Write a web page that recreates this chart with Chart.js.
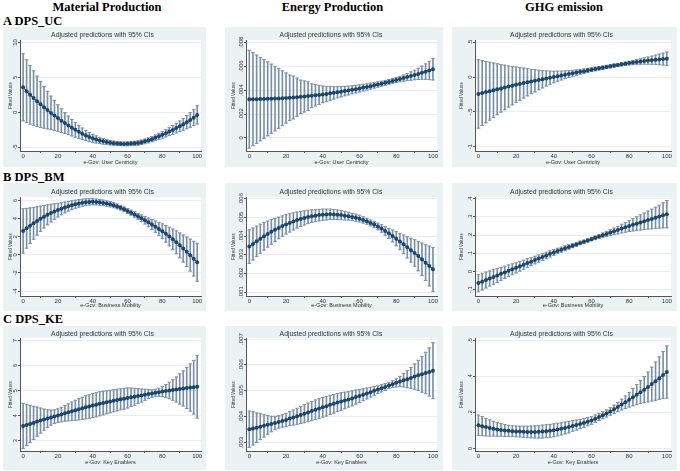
<!DOCTYPE html>
<html>
<head>
<meta charset="utf-8">
<script src="https://cdn.jsdelivr.net/npm/chart.js@4.4.1/dist/chart.umd.min.js"></script>
<style>
body{margin:0;background:#fff;}
#page{position:relative;width:680px;height:471px;overflow:hidden;background:#fff;}
.hd{position:absolute;font-family:"Liberation Serif","Times New Roman",serif;font-weight:bold;font-size:12.5px;line-height:12.5px;white-space:nowrap;color:#000;}
.panel{position:absolute;background:#eaf2f3;}
.panel canvas{display:block;}
</style>
</head>
<body>
<div id="page"></div>
<script>
// margins at e-Gov score 0,2,...,100
const atX = [0,2,4,6,8,10,12,14,16,18,20,22,24,26,28,30,32,34,36,38,40,42,44,46,48,50,
  52,54,56,58,60,62,64,66,68,70,72,74,76,78,80,82,84,86,88,90,92,94,96,98,100];
const xTickVals = [0,20,40,60,80,100];

const colTitles = ['Material Production','Energy Production','GHG emission'];
const rowLabels = ['A DPS_UC','B DPS_BM','C DPS_KE'];
const xTitles = ['e-Gov: User Centricity','e-Gov: Business Mobility','e-Gov: Key Enablers'];

// fitted values and 95% CI half widths
const matUC = [3.57,3.02,2.50,2.03,1.57,1.13,.71,.31,-.09,-.47,-.83,-1.20,-1.55,-1.88,-2.21,-2.52,-2.81,-3.08,-3.32,-3.55,-3.73,
  -3.89,-4.04,-4.17,-4.27,-4.36,-4.43,-4.48,-4.51,-4.53,-4.52,-4.49,-4.45,-4.39,-4.30,-4.17,-4.02,-3.85,-3.66,-3.45,-3.23,
  -3.01,-2.77,-2.53,-2.27,-2.01,-1.73,-1.43,-1.11,-.77,-.38];
const matUCci = [4.8,4.5,4.2,3.9,3.6,3.3,3.0,2.7,2.4,2.15,1.9,1.7,1.5,1.33,1.18,1.05,.93,.82,.73,.65,.58,
  .51,.45,.4,.36,.32,.3,.28,.27,.27,.28,.29,.3,.31,.32,.34,.36,.38,.41,.44,.48,.52,.57,.63,.7,.77,.85,.94,1.04,1.15,1.3];

const engUC = [.00324,.00324,.00324,.00325,.00326,.00327,.00328,.00329,.0033,.00332,.00334,.00336,.00338,.00341,.00344,.00347,
  .0035,.00353,.00357,.0036,.00364,.00368,.00373,.00377,.00382,.00387,.00392,.00397,.00403,.00408,.00414,.00421,.00427,.00433,
  .0044,.00447,.00454,.00461,.00469,.00477,.00485,.00493,.00501,.0051,.00518,.00527,.00536,.00546,.00555,.00565,.00575];
const engUCci = [.0041,.0039,.0037,.0035,.0033,.0031,.0029,.0027,.0025,.0023,.0021,.0019,.0018,.0016,.0014,.0013,.0012,.001,
  .0009,.0008,.0007,.00064,.00058,.00052,.00047,.00043,.0004,.00037,.00034,.00032,.0003,.00028,.00026,.00025,.00023,.00022,
  .00021,.0002,.0002,.0002,.00021,.00023,.00026,.0003,.00035,.0004,.00047,.00055,.00065,.00077,.0009];

const ghgUC = [-.243,-.23,-.216,-.203,-.189,-.176,-.163,-.15,-.137,-.124,-.111,-.099,-.087,-.076,-.065,-.054,-.043,-.032,-.021,
  -.011,0,.011,.021,.032,.042,.053,.063,.074,.084,.095,.105,.115,.125,.134,.144,.153,.163,.172,.181,.19,.199,.207,.215,.222,
  .229,.235,.241,.247,.252,.257,.262];
const ghgUCci = [.49,.465,.44,.415,.39,.365,.34,.32,.295,.275,.255,.235,.215,.195,.175,.16,.14,.125,.11,.095,.083,.073,.064,
  .056,.049,.043,.039,.035,.032,.03,.028,.027,.026,.025,.024,.024,.023,.023,.024,.025,.027,.03,.034,.039,.045,.052,.059,.067,
  .076,.085,.095];

const matBM = [2.65,2.94,3.22,3.49,3.75,4.0,4.22,4.43,4.62,4.79,4.95,5.1,5.24,5.37,5.49,5.6,5.69,5.77,5.83,5.86,5.87,5.85,
  5.81,5.75,5.68,5.6,5.49,5.36,5.21,5.04,4.85,4.67,4.47,4.26,4.05,3.83,3.6,3.36,3.12,2.87,2.61,2.33,2.03,1.72,1.39,1.05,
  .7,.34,-.03,-.42,-.82];
const matBMci = [2.45,2.2,1.97,1.76,1.57,1.4,1.25,1.11,.98,.86,.76,.67,.6,.54,.49,.45,.42,.39,.37,.35,.34,.33,.32,.31,.3,
  .29,.28,.27,.26,.26,.27,.28,.3,.33,.37,.42,.48,.55,.63,.72,.82,.92,1.03,1.14,1.26,1.38,1.5,1.63,1.77,1.92,2.1];

const engBM = [.00344,.00358,.00372,.00386,.00399,.00411,.00423,.00434,.00444,.00454,.00463,.00471,.00479,.00486,.00492,
  .00498,.00503,.00507,.0051,.00513,.00515,.00516,.00517,.00516,.00515,.00513,.0051,.00507,.00503,.00499,.00494,.00487,
  .0048,.00471,.00462,.00452,.00441,.00428,.00415,.00401,.00386,.00371,.00356,.0034,.00325,.0031,.00293,.00276,.00258,
  .0024,.00222];
const engBMci = [.0009,.00086,.00082,.00078,.00074,.0007,.00066,.00062,.00058,.00055,.00052,.00049,.00046,.00043,.0004,
  .00038,.00036,.00034,.00032,.00031,.0003,.00029,.00028,.00027,.00026,.00025,.00023,.00021,.0002,.00019,.00018,.00017,
  .00016,.00016,.00017,.00018,.0002,.00023,.00027,.00032,.00038,.00044,.0005,.00057,.00064,.00071,.00079,.00087,.00096,
  .00107,.00118];

const ghgBM = [-.064,-.056,-.047,-.039,-.03,-.022,-.013,-.005,.004,.012,.02,.029,.037,.046,.054,.063,.071,.08,.088,.097,.105,
  .113,.12,.128,.135,.142,.149,.157,.164,.171,.178,.185,.193,.2,.207,.214,.221,.228,.236,.243,.25,.257,.263,.27,.276,.283,
  .289,.296,.302,.309,.315];
const ghgBMci = [.048,.046,.044,.042,.04,.038,.036,.034,.032,.03,.028,.027,.025,.024,.022,.021,.02,.019,.018,.017,.016,.015,
  .014,.013,.012,.011,.01,.01,.009,.009,.009,.01,.011,.012,.014,.016,.018,.021,.024,.027,.03,.034,.038,.042,.046,.05,.054,
  .058,.063,.069,.075];

const matKE = [3.6,3.64,3.68,3.72,3.77,3.81,3.85,3.89,3.93,3.97,4.01,4.05,4.1,4.14,4.18,4.22,4.26,4.3,4.34,4.37,4.41,4.44,
  4.48,4.51,4.54,4.57,4.6,4.63,4.66,4.68,4.71,4.74,4.76,4.79,4.81,4.84,4.87,4.89,4.92,4.94,4.97,4.99,5.01,5.03,5.05,5.07,
  5.09,5.11,5.13,5.14,5.16];
const matKEci = [.9,.82,.74,.66,.58,.5,.42,.35,.3,.27,.27,.29,.31,.34,.37,.4,.42,.44,.46,.47,.48,.48,.48,.47,.46,.45,.44,
  .43,.42,.41,.4,.37,.34,.3,.26,.22,.18,.15,.14,.16,.2,.26,.33,.41,.5,.6,.7,.82,.94,1.07,1.25];

const engKE = [.00352,.00355,.00358,.00362,.00365,.00369,.00372,.00376,.0038,.00384,.00388,.00393,.00397,.00402,.00407,
  .00412,.00417,.00422,.00427,.00432,.00437,.00441,.00446,.0045,.00455,.00459,.00463,.00467,.00471,.00476,.0048,.00485,
  .0049,.00495,.005,.00505,.0051,.00515,.00521,.00526,.00531,.00536,.00541,.00545,.0055,.00555,.0056,.00564,.00569,
  .00573,.00578];
const engKEci = [.0007,.00064,.00057,.0005,.00043,.00036,.0003,.00026,.00024,.00024,.00025,.00027,.00029,.00031,.00033,
  .00035,.00036,.00037,.00038,.00038,.00038,.00038,.00037,.00036,.00035,.00034,.00032,.0003,.00029,.00027,.00025,.00023,
  .00021,.00019,.00017,.00015,.00014,.00013,.00012,.00013,.00016,.0002,.00026,.00033,.0004,.00049,.00058,.00069,.0008,
  .00093,.00108];

const ghgKE = [.13,.125,.12,.115,.111,.107,.104,.101,.099,.097,.096,.095,.094,.093,.093,.093,.094,.095,.097,.099,.102,.106,
  .11,.115,.12,.126,.131,.137,.143,.15,.157,.166,.176,.186,.196,.207,.219,.232,.245,.258,.272,.286,.3,.314,.328,.343,.359,
  .375,.392,.409,.426];
const ghgKEci = [.057,.053,.049,.045,.041,.038,.035,.033,.031,.03,.03,.03,.031,.032,.033,.034,.035,.036,.036,.036,.036,
  .035,.034,.033,.032,.03,.028,.026,.025,.023,.022,.021,.02,.02,.02,.021,.023,.026,.03,.035,.041,.048,.056,.064,.073,.083,
  .094,.106,.118,.131,.145];

// y axis ticks (Stata style labels)
const yTicksMatUC = [-5,0,5,10], yLabMatUC = ['-5','0','5','10'];
const yTicksEngUC = [0,.002,.004,.006,.008], yLabEngUC = ['0','.002','.004','.006','.008'];
const yTicksGhgUC = [-1,-.5,0,.5], yLabGhgUC = ['-1','-.5','0','.5'];
const yTicksMatBM = [-4,-2,0,2,4,6], yLabMatBM = ['-4','-2','0','2','4','6'];
const yTicksEngBM = [.001,.002,.003,.004,.005,.006], yLabEngBM = ['.001','.002','.003','.004','.005','.006'];
const yTicksGhgBM = [-.1,0,.1,.2,.3,.4], yLabGhgBM = ['-.1','0','.1','.2','.3','.4'];
const yTicksMatKE = [3,4,5,6,7], yLabMatKE = ['3','4','5','6','7'];
const yTicksEngKE = [.003,.004,.005,.006,.007], yLabEngKE = ['.003','.004','.005','.006','.007'];
const yTicksGhgKE = [0,.2,.4,.6], yLabGhgKE = ['0','.2','.4','.6'];

const panels = [
  {row:0, col:0, fit:matUC, ci:matUCci, ticks:yTicksMatUC, labels:yLabMatUC, min:-5.55, max:10.35},
  {row:0, col:1, fit:engUC, ci:engUCci, ticks:yTicksEngUC, labels:yLabEngUC, min:-.0011, max:.0082},
  {row:0, col:2, fit:ghgUC, ci:ghgUCci, ticks:yTicksGhgUC, labels:yLabGhgUC, min:-1.06, max:.53},
  {row:1, col:0, fit:matBM, ci:matBMci, ticks:yTicksMatBM, labels:yLabMatBM, min:-4.55, max:6.4},
  {row:1, col:1, fit:engBM, ci:engBMci, ticks:yTicksEngBM, labels:yLabEngBM, min:.00079, max:.0061},
  {row:1, col:2, fit:ghgBM, ci:ghgBMci, ticks:yTicksGhgBM, labels:yLabGhgBM, min:-.135, max:.41},
  {row:2, col:0, fit:matKE, ci:matKEci, ticks:yTicksMatKE, labels:yLabMatKE, min:2.6, max:7.1},
  {row:2, col:1, fit:engKE, ci:engKEci, ticks:yTicksEngKE, labels:yLabEngKE, min:.00268, max:.00704},
  {row:2, col:2, fit:ghgKE, ci:ghgKEci, ticks:yTicksGhgKE, labels:yLabGhgKE, min:-.013, max:.615}
];

// layout of the grid (px)
const cols = [
  {left:3, width:203, plotL:17, plotR:199, yTitle:7.5, head:107},
  {left:225, width:218, plotL:21, plotR:212, yTitle:9, head:332.5},
  {left:452, width:225, plotL:23, plotR:219, yTitle:10, head:564}
];
const rows = [
  {top:27, height:140, titleC:8, plotT:13, plotB:124, xTitle:11, label:14.5},
  {top:183, height:128, titleC:9, plotT:14, plotB:113, xTitle:9.5, label:170.5},
  {top:326, height:144, titleC:8, plotT:12, plotB:125, xTitle:11, label:312.5}
];

const NAVY = '#1a476f';
const CICOL = '#7a90a8';
const AXIS = '#555555';
const TXT = '#333333';
const FAM = '"Liberation Sans", Arial, sans-serif';

Chart.defaults.font.family = FAM;

const page = document.getElementById('page');

colTitles.forEach((t, i) => {
  const d = document.createElement('div');
  d.className = 'hd';
  d.textContent = t;
  d.style.top = '1px';
  d.style.left = cols[i].head + 'px';
  d.style.transform = 'translateX(-50%)';
  page.appendChild(d);
});
rowLabels.forEach((t, i) => {
  const d = document.createElement('div');
  d.className = 'hd';
  d.textContent = t;
  d.style.top = rows[i].label + 'px';
  d.style.left = '3px';
  page.appendChild(d);
});

const plotBg = {
  id: 'plotBg',
  beforeDraw(chart) {
    const {ctx, chartArea: a} = chart;
    ctx.save();
    ctx.fillStyle = '#ffffff';
    ctx.fillRect(a.left, a.top, a.right - a.left, a.bottom - a.top);
    ctx.restore();
  }
};

const measure = document.createElement('canvas').getContext('2d');

function makePanel(p) {
  const c = cols[p.col], r = rows[p.row];
  const div = document.createElement('div');
  div.className = 'panel';
  div.style.left = c.left + 'px';
  div.style.top = r.top + 'px';
  div.style.width = c.width + 'px';
  div.style.height = r.height + 'px';
  const cv = document.createElement('canvas');
  cv.width = c.width; cv.height = r.height;
  cv.style.width = c.width + 'px'; cv.style.height = r.height + 'px';
  div.appendChild(cv);
  page.appendChild(div);

  measure.font = '6px ' + FAM;
  const widest = Math.max(...p.labels.map(l => measure.measureText(l).width));

  const lo = p.fit.map((v, i) => v - p.ci[i]);
  const hi = p.fit.map((v, i) => v + p.ci[i]);
  const titleLH = 6.8 * 1.2;
  const xTitleLH = 5.5 * 1.2;
  const yTitleLH = 4.6 * 1.2;

  new Chart(cv, {
    type: 'line',
    data: {
      datasets: [
        {
          type: 'line',
          data: atX.map((x, i) => ({x: x, y: p.fit[i]})),
          borderColor: NAVY, borderWidth: 1.1, tension: 0,
          pointRadius: 2, pointBackgroundColor: NAVY, pointBorderWidth: 0
        },
        {
          type: 'line',
          data: atX.map((x, i) => ({x: x, y: hi[i]})),
          showLine: false, pointStyle: 'line', pointRadius: 1.8,
          pointBorderColor: CICOL, pointBorderWidth: 1
        },
        {
          type: 'line',
          data: atX.map((x, i) => ({x: x, y: lo[i]})),
          showLine: false, pointStyle: 'line', pointRadius: 1.8,
          pointBorderColor: CICOL, pointBorderWidth: 1
        },
        {
          type: 'bar',
          data: atX.map((x, i) => ({x: x, y: [lo[i], hi[i]]})),
          backgroundColor: CICOL, borderWidth: 0, barThickness: 1
        }
      ]
    },
    options: {
      responsive: false,
      animation: false,
      events: [],
      layout: {padding: {left: 0, top: 0, bottom: 0, right: c.width - c.plotR}},
      plugins: {
        legend: {display: false},
        tooltip: {enabled: false},
        title: {
          display: true,
          text: 'Adjusted predictions with 95% CIs',
          color: TXT,
          font: {size: 6.8, weight: 'normal', lineHeight: 1.2},
          padding: {top: r.titleC - titleLH / 2, bottom: r.plotT - r.titleC - titleLH / 2}
        }
      },
      scales: {
        x: {
          type: 'linear', min: -1.8, max: 102.2, offset: false,
          afterBuildTicks: s => { s.ticks = xTickVals.map(v => ({value: v})); },
          afterFit: s => { s.height = r.height - r.plotB; },
          grid: {drawOnChartArea: false, drawTicks: true, tickLength: 2, tickColor: AXIS},
          border: {display: true, color: AXIS, width: 1},
          ticks: {color: TXT, font: {size: 6, lineHeight: 1}, padding: 0.5, maxRotation: 0, autoSkip: false},
          title: {
            display: true, text: xTitles[p.row], color: TXT,
            font: {size: 5.5, lineHeight: 1.2},
            padding: {top: 0, bottom: (r.height - r.plotB) - r.xTitle - xTitleLH / 2}
          }
        },
        y: {
          type: 'linear', min: p.min, max: p.max,
          afterBuildTicks: s => { s.ticks = p.ticks.map(v => ({value: v})); },
          afterFit: s => { s.width = c.plotL; },
          grid: {color: '#e6eef0', lineWidth: 1, drawTicks: true, tickLength: 2, tickColor: AXIS},
          border: {display: true, color: AXIS, width: 1},
          ticks: {
            color: TXT, font: {size: 6}, autoSkip: false,
            minRotation: 90, maxRotation: 90, crossAlign: 'center',
            padding: 3 - widest / 2,
            callback: (v, i) => p.labels[i]
          },
          title: {
            display: true, text: 'Fitted Values', color: TXT,
            font: {size: 4.6, lineHeight: 1.2},
            padding: {top: c.yTitle - yTitleLH / 2, bottom: 0}
          }
        }
      }
    },
    plugins: [plotBg]
  });
}

panels.forEach(makePanel);
</script>
</body>
</html>
